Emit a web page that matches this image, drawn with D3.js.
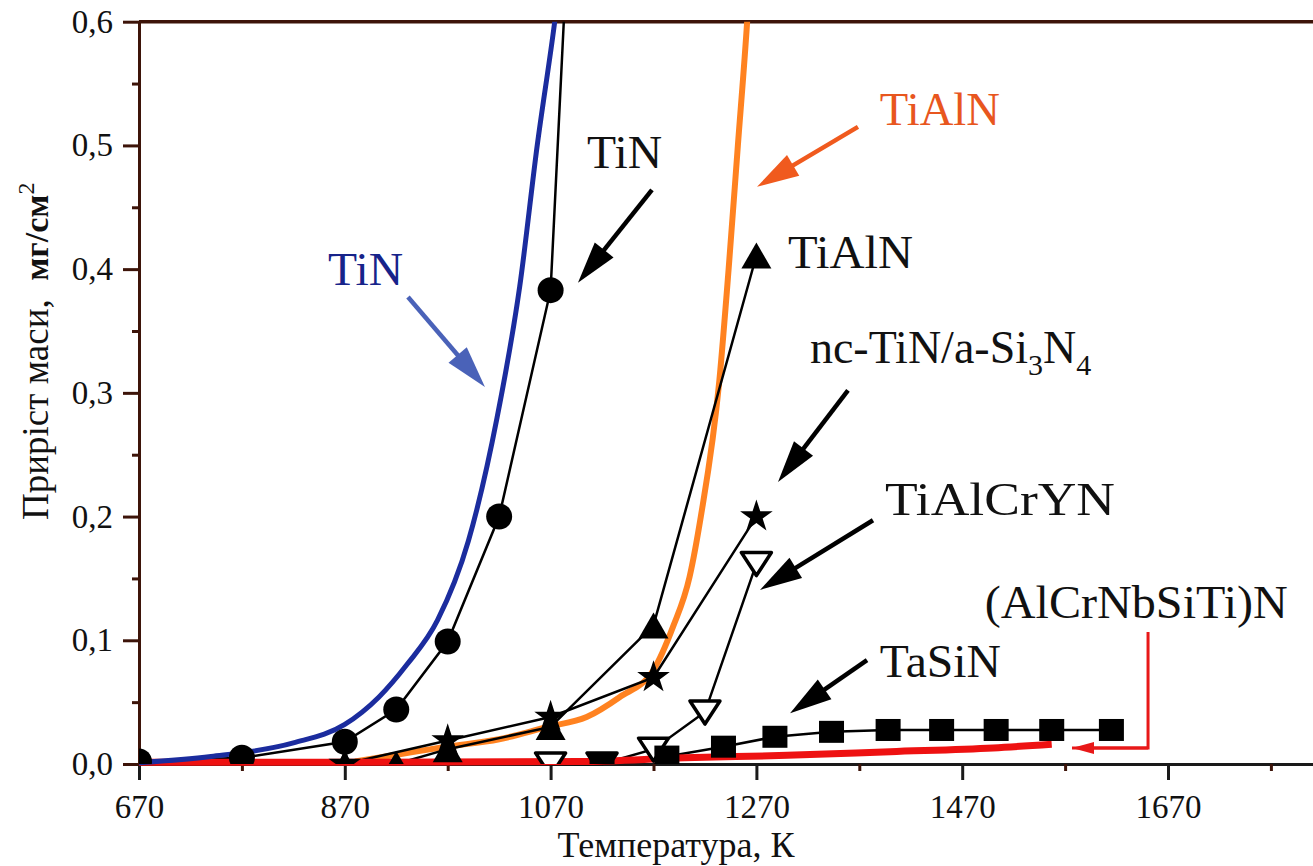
<!DOCTYPE html>
<html>
<head>
<meta charset="utf-8">
<script src="https://cdn.jsdelivr.net/npm/d3@7"></script>
<style>
  html, body { margin: 0; padding: 0; background: #fff; overflow: hidden; }
  svg { display: block; }
  text { font-family: "Liberation Serif", "Times New Roman", serif; }
</style>
</head>
<body>
<div id="chart"></div>
<script>
// values: [temperature K, mass gain mg/cm2]
var tinBlue = [[670,0.001],[740,0.006],[820,0.017],[870,0.032],[903,0.054],[930,0.08],[960,0.116],[990,0.18],[1018,0.28],[1040,0.386],[1057,0.5],[1074,0.6],[1080,0.64]];
var tialnOrange = [[880,0.002],[969,0.014],[1020,0.02],[1067,0.03],[1105,0.038],[1137,0.054],[1170,0.076],[1189,0.111],[1205,0.151],[1216,0.2],[1234,0.31],[1243,0.4],[1252,0.5],[1261,0.6],[1264,0.64]];
var tinDots = [[670,0.002],[770,0.005],[870,0.018],[920,0.044],[970,0.099],[1020,0.2],[1070,0.383]];
var tinDotsEnd = [1084,0.62];
var tialnTri = [[870,0],[920,0],[970,0.012],[1070,0.03],[1170,0.112],[1270,0.411]];
var ncStar = [[870,0],[970,0.019],[1070,0.038],[1170,0.07],[1270,0.2]];
var tialcryn = [[1070,0],[1120,0],[1170,0.012],[1220,0.042],[1270,0.162]];
var tasin = [[1120,0],[1183,0.006],[1238,0.014],[1288,0.022],[1343,0.026],[1398,0.0275],[1450,0.0275],[1503,0.0275],[1557,0.0275],[1615,0.0275]];
var alcrnbsiti = [[670,0.0015],[900,0.0015],[1100,0.002],[1200,0.005],[1300,0.007],[1400,0.01],[1500,0.013],[1557,0.016]];

var xMajor = [670, 870, 1070, 1270, 1470, 1670];
var xMinor = [770, 970, 1170, 1370, 1570, 1770];
var yMajor = [0, 0.1, 0.2, 0.3, 0.4, 0.5, 0.6];
var yMinor = [0.05, 0.15, 0.25, 0.35, 0.45, 0.55];

// annotations: label text, [T, value] of text start, colour, width in px
var labels = [
  ["TiN", [853.7, 0.387], "#17238a", 75],
  ["TiN", [1105.4, 0.482], "#111", 75],
  ["TiAlN", [1390, 0.5166], "#e8561e", 120],
  ["TiAlN", [1300.7, 0.401], "#111", 125],
  ["TiAlCrYN", [1395, 0.201], "#111", 230],
  ["TaSiN", [1390, 0.0703], "#111", 121],
  ["(AlCrNbSiTi)N", [1492, 0.118], "#111", 303]
];
var ncLabelPos = [1322, 0.324];
// arrows: tail, tip, colour
var arrows = [
  [[931.4, 0.3775], [1006.2, 0.3048], "#4a62b8"],
  [[1168.5, 0.464], [1096.6, 0.389], "#000"],
  [[1368.7, 0.515], [1270.6, 0.4665], "#f05a1e"],
  [[1359, 0.302], [1291, 0.228], "#000"],
  [[1383.3, 0.197], [1273.5, 0.1407], "#000"],
  [[1377.5, 0.084], [1302.7, 0.041], "#000"]
];
var redBracket = [[1650.6, 0.1067], [1650.6, 0.0129], [1576.7, 0.0129]];

var W = 1313, H = 866;
var serif = "Liberation Serif";
var svg = d3.select("#chart").append("svg")
  .attr("width", W)
  .attr("height", H);

var x = d3.scaleLinear().domain([670, 1870]).range([139, 139 + 1200 * 1.029]);
var y = d3.scaleLinear().domain([0, 0.6]).range([764, 21.7]);

var axisCol = "#3d1409";

svg.append("clipPath").attr("id", "plot")
  .append("rect").attr("x", 139).attr("y", y(0.6)).attr("width", W - 139).attr("height", y(0) - y(0.6) + 4);
svg.append("clipPath").attr("id", "marks")
  .append("rect").attr("x", 139).attr("y", y(0.6)).attr("width", W - 139).attr("height", y(0) - y(0.6));

// axes
var gx = svg.append("g").attr("transform", "translate(0," + y(0) + ")")
  .call(d3.axisBottom(x).tickValues(xMajor).tickSize(16).tickSizeOuter(0).tickPadding(15).tickFormat(d3.format("d")));
svg.append("g").attr("transform", "translate(0," + y(0) + ")")
  .call(d3.axisBottom(x).tickValues(xMinor).tickSize(7).tickSizeOuter(0).tickFormat(""))
  .select(".domain").remove();
var gy = svg.append("g").attr("transform", "translate(" + x(670) + ",0)")
  .call(d3.axisLeft(y).tickValues(yMajor).tickSize(16).tickSizeOuter(0).tickPadding(10)
    .tickFormat(function(d) { return d3.format(".1f")(d).replace(".", ","); }));
svg.append("g").attr("transform", "translate(" + x(670) + ",0)")
  .call(d3.axisLeft(y).tickValues(yMinor).tickSize(7).tickSizeOuter(0).tickFormat(""))
  .select(".domain").remove();

svg.selectAll(".domain, .tick line").attr("stroke", axisCol).attr("stroke-width", 3);
gx.selectAll(".domain, .tick line").attr("stroke", "#1a1a1a");
svg.selectAll("g").attr("font-family", serif);
svg.selectAll(".tick text").style("font-family", serif).attr("font-size", 33).attr("fill", "#111");

// top frame line
svg.append("line")
  .attr("x1", x(670)).attr("x2", W).attr("y1", y(0.6)).attr("y2", y(0.6))
  .attr("stroke", axisCol).attr("stroke-width", 3.5);

// axis titles
svg.append("text")
  .attr("x", 676).attr("y", 857)
  .attr("text-anchor", "middle")
  .style("font-family", serif)
  .attr("font-size", 36).attr("fill", "#111")
  .text("Температура, К");

var yt = svg.append("text")
  .attr("transform", "translate(48,520) rotate(-90)")
  .style("font-family", serif)
  .attr("font-size", 37).attr("fill", "#111")
  .style("white-space", "pre");
yt.append("tspan").text("Приріст маси,  ");
yt.append("tspan").attr("font-weight", "bold").attr("font-size", 34).text("мг/см");
yt.append("tspan").attr("dy", -14).attr("font-size", 24).text("2");

// curves
var plot = svg.append("g").attr("clip-path", "url(#plot)");
var smooth = d3.line().x(function(d) { return x(d[0]); }).y(function(d) { return y(d[1]); }).curve(d3.curveMonotoneX);
var straight = d3.line().x(function(d) { return x(d[0]); }).y(function(d) { return y(d[1]); });

plot.append("path").datum(tialnOrange)
  .attr("d", smooth).attr("fill", "none").attr("stroke", "#ff7b14").attr("stroke-width", 6).attr("opacity", 0.95);

var series = [tinDots.concat([tinDotsEnd]), tialnTri, ncStar, tialcryn, tasin];
series.forEach(function(s) {
  plot.append("path").datum(s)
    .attr("d", straight).attr("fill", "none").attr("stroke", "#000").attr("stroke-width", 2.5);
});

// markers
var mk = svg.append("g").attr("clip-path", "url(#marks)");
function place(d) { return "translate(" + x(d[0]) + "," + y(d[1]) + ")"; }

mk.selectAll(".dot").data(tinDots).enter().append("circle")
  .attr("cx", function(d) { return x(d[0]); })
  .attr("cy", function(d) { return y(d[1]); })
  .attr("r", 13).attr("fill", "#000");

mk.selectAll(".tri").data(tialnTri).enter().append("path")
  .attr("transform", place)
  .attr("d", "M0,-13L15,13L-15,13Z").attr("fill", "#000");

mk.selectAll(".star").data(ncStar).enter().append("path")
  .attr("transform", place)
  .attr("d", d3.symbol(d3.symbolStar, 330)).attr("fill", "#000");

mk.selectAll(".itri").data(tialcryn).enter().append("path")
  .attr("transform", place)
  .attr("d", "M-15,-11L15,-11L0,12Z")
  .attr("fill", "#fff").attr("stroke", "#000").attr("stroke-width", 3.5).attr("stroke-linejoin", "round");

mk.selectAll(".sq").data(tasin).enter().append("rect")
  .attr("x", function(d) { return x(d[0]) - 12.5; })
  .attr("y", function(d) { return y(d[1]) - 11; })
  .attr("width", 25).attr("height", 22).attr("fill", "#000");

// red (AlCrNbSiTi)N line on top
plot.append("path").datum(alcrnbsiti)
  .attr("d", smooth).attr("fill", "none").attr("stroke", "#ee1111").attr("stroke-width", 7);

// blue TiN curve
plot.append("path").datum(tinBlue)
  .attr("d", smooth).attr("fill", "none").attr("stroke", "#1b2c9e").attr("stroke-width", 5);

// arrows
function arrow(tail, tip, col, w, len, half) {
  var x0 = x(tail[0]), y0 = y(tail[1]), x1 = x(tip[0]), y1 = y(tip[1]);
  var dx = x1 - x0, dy = y1 - y0, L = Math.sqrt(dx * dx + dy * dy);
  var ux = dx / L, uy = dy / L;
  var bx = x1 - ux * len, by = y1 - uy * len;
  svg.append("line")
    .attr("x1", x0).attr("y1", y0).attr("x2", bx + ux * 2).attr("y2", by + uy * 2)
    .attr("stroke", col).attr("stroke-width", w);
  svg.append("path")
    .attr("d", "M" + x1 + "," + y1 + "L" + (bx - uy * half) + "," + (by + ux * half) +
      "L" + (bx + uy * half) + "," + (by - ux * half) + "Z")
    .attr("fill", col);
}
arrows.forEach(function(a) { arrow(a[0], a[1], a[2], 4.5, 42, 12); });

// red bracket arrow
svg.append("path").datum(redBracket.slice(0, 3))
  .attr("d", straight).attr("fill", "none").attr("stroke", "#e81818").attr("stroke-width", 3);
arrow(redBracket[1], redBracket[2], "#e81818", 3, 22, 6);

// labels
labels.forEach(function(l) {
  svg.append("text")
    .attr("x", x(l[1][0])).attr("y", y(l[1][1]))
    .style("font-family", serif)
    .attr("font-size", 46).attr("fill", l[2])
    .attr("textLength", l[3]).attr("lengthAdjust", "spacingAndGlyphs")
    .text(l[0]);
});
var nc = svg.append("text")
  .attr("x", x(ncLabelPos[0])).attr("y", y(ncLabelPos[1]))
  .style("font-family", serif)
  .attr("font-size", 46).attr("fill", "#111");
nc.append("tspan").text("nc-TiN/a-Si");
nc.append("tspan").attr("dy", 12).attr("font-size", 30).text("3");
nc.append("tspan").attr("dy", -12).text("N");
nc.append("tspan").attr("dy", 12).attr("font-size", 30).text("4");
</script>
</body>
</html>
